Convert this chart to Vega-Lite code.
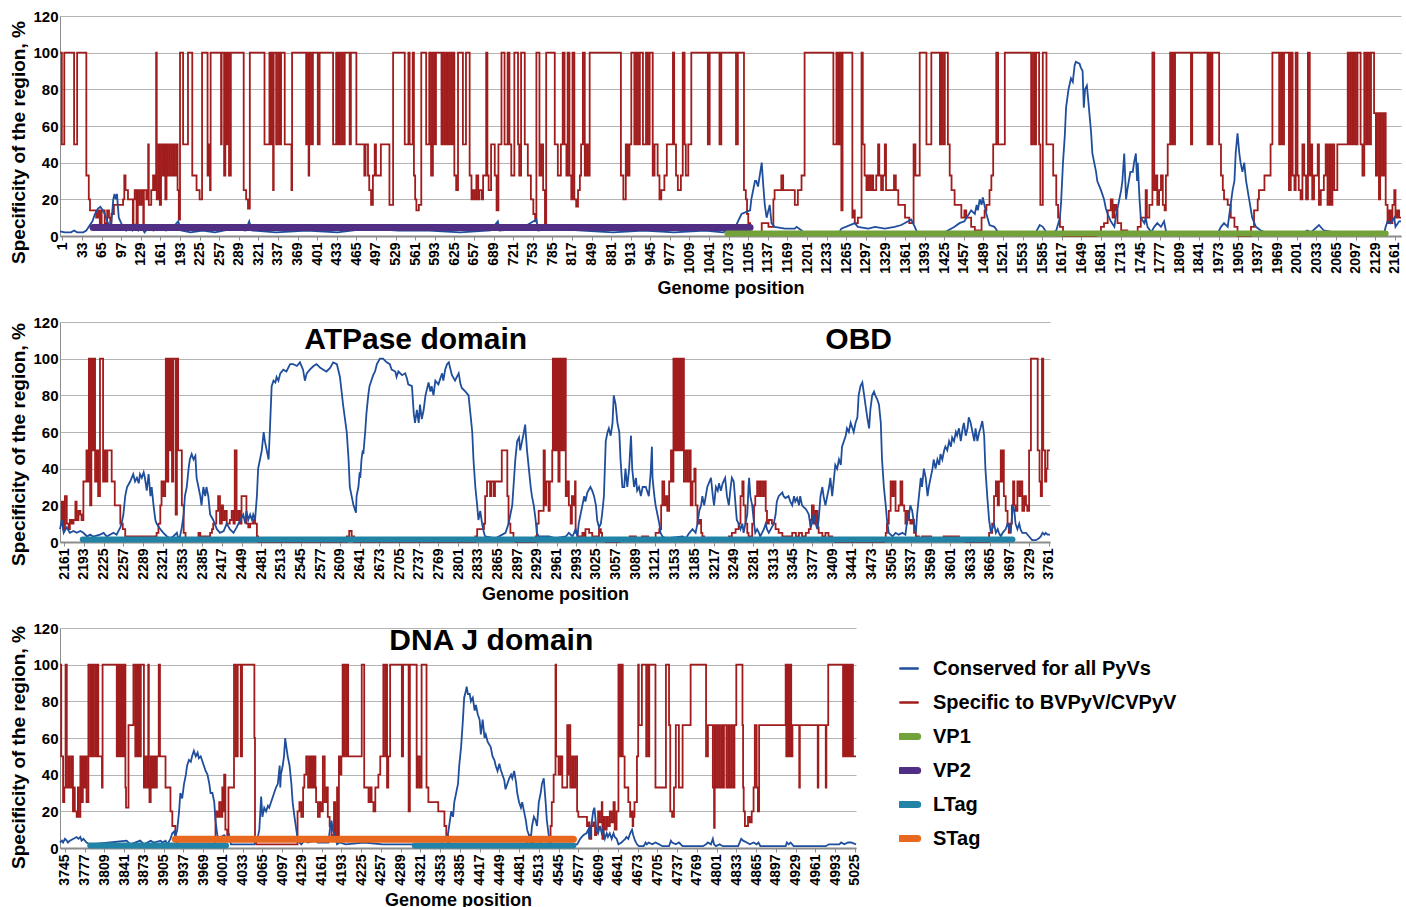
{
"$schema": "https://vega.github.io/schema/vega-lite/v6.json",
"background": "white",
"padding": {"left": 9, "top": 9, "right": 4, "bottom": 0},
"spacing": 17,
"config": {
  "font": "Liberation Sans",
  "view": {"stroke": null},
  "axis": {"labelFont": "Liberation Sans", "labelFontWeight": "bold", "labelColor": "#000000", "titleFont": "Liberation Sans", "titleFontWeight": "bold", "titleColor": "#000000", "domainColor": "#8c8c8c", "tickColor": "#8c8c8c", "gridColor": "#b4b4b4"}
},
"resolve": {"scale": {"x": "independent", "y": "independent", "color": "independent"}},
"datasets": {
"p1r": [{"x":-3,"y":100},{"x":0,"y":50},{"x":4,"y":100},{"x":20,"y":50},{"x":25,"y":100},{"x":40,"y":33},{"x":44,"y":20},{"x":46,"y":14},{"x":56,"y":10},{"x":59,"y":14},{"x":62,"y":7},{"x":65,"y":14},{"x":70,"y":7},{"x":74,"y":14},{"x":77,"y":10},{"x":79,"y":7},{"x":81,"y":12},{"x":85,"y":17},{"x":100,"y":20},{"x":102,"y":33},{"x":104,"y":25},{"x":108,"y":20},{"x":116,"y":7},{"x":117,"y":20},{"x":119,"y":25},{"x":122,"y":7},{"x":124,"y":25},{"x":127,"y":17},{"x":130,"y":25},{"x":133,"y":7},{"x":134,"y":25},{"x":138,"y":20},{"x":141,"y":50},{"x":142,"y":17},{"x":146,"y":25},{"x":149,"y":33},{"x":152,"y":25},{"x":154,"y":100},{"x":155,"y":20},{"x":158,"y":50},{"x":160,"y":17},{"x":162,"y":50},{"x":165,"y":33},{"x":167,"y":50},{"x":169,"y":20},{"x":171,"y":50},{"x":173,"y":33},{"x":176,"y":50},{"x":179,"y":33},{"x":182,"y":50},{"x":184,"y":33},{"x":187,"y":50},{"x":189,"y":25},{"x":191,"y":9},{"x":193,"y":100},{"x":198,"y":50},{"x":206,"y":100},{"x":213,"y":33},{"x":220,"y":25},{"x":225,"y":20},{"x":229,"y":100},{"x":238,"y":33},{"x":240,"y":50},{"x":242,"y":25},{"x":243,"y":100},{"x":260,"y":50},{"x":261,"y":100},{"x":265,"y":33},{"x":267,"y":100},{"x":269,"y":50},{"x":271,"y":100},{"x":273,"y":33},{"x":276,"y":100},{"x":297,"y":25},{"x":301,"y":20},{"x":304,"y":15},{"x":307,"y":100},{"x":331,"y":50},{"x":339,"y":100},{"x":341,"y":50},{"x":343,"y":100},{"x":345,"y":25},{"x":346,"y":100},{"x":350,"y":50},{"x":353,"y":100},{"x":356,"y":50},{"x":358,"y":100},{"x":364,"y":50},{"x":375,"y":25},{"x":376,"y":100},{"x":399,"y":50},{"x":402,"y":100},{"x":403,"y":33},{"x":404,"y":100},{"x":407,"y":50},{"x":410,"y":100},{"x":418,"y":50},{"x":421,"y":100},{"x":443,"y":50},{"x":448,"y":100},{"x":450,"y":50},{"x":452,"y":100},{"x":453,"y":50},{"x":456,"y":100},{"x":459,"y":50},{"x":462,"y":100},{"x":470,"y":50},{"x":472,"y":100},{"x":481,"y":50},{"x":494,"y":33},{"x":496,"y":50},{"x":500,"y":33},{"x":502,"y":25},{"x":505,"y":17},{"x":508,"y":33},{"x":511,"y":50},{"x":513,"y":33},{"x":521,"y":50},{"x":535,"y":17},{"x":541,"y":100},{"x":560,"y":50},{"x":566,"y":100},{"x":568,"y":50},{"x":573,"y":100},{"x":575,"y":33},{"x":577,"y":20},{"x":579,"y":14},{"x":583,"y":17},{"x":587,"y":100},{"x":595,"y":50},{"x":600,"y":100},{"x":603,"y":33},{"x":606,"y":100},{"x":609,"y":50},{"x":611,"y":100},{"x":620,"y":50},{"x":622,"y":100},{"x":625,"y":50},{"x":628,"y":100},{"x":630,"y":50},{"x":633,"y":100},{"x":636,"y":50},{"x":639,"y":100},{"x":641,"y":33},{"x":644,"y":25},{"x":647,"y":100},{"x":655,"y":50},{"x":660,"y":100},{"x":666,"y":33},{"x":669,"y":20},{"x":671,"y":25},{"x":674,"y":20},{"x":677,"y":33},{"x":680,"y":20},{"x":682,"y":25},{"x":686,"y":20},{"x":688,"y":33},{"x":693,"y":100},{"x":695,"y":33},{"x":697,"y":25},{"x":701,"y":50},{"x":707,"y":33},{"x":710,"y":14},{"x":713,"y":50},{"x":718,"y":100},{"x":723,"y":50},{"x":728,"y":100},{"x":731,"y":50},{"x":734,"y":33},{"x":739,"y":100},{"x":745,"y":50},{"x":747,"y":33},{"x":750,"y":100},{"x":756,"y":50},{"x":761,"y":33},{"x":766,"y":20},{"x":770,"y":12},{"x":773,"y":8},{"x":775,"y":100},{"x":780,"y":33},{"x":783,"y":50},{"x":786,"y":25},{"x":789,"y":5},{"x":791,"y":100},{"x":805,"y":50},{"x":810,"y":33},{"x":815,"y":50},{"x":818,"y":100},{"x":821,"y":50},{"x":824,"y":33},{"x":826,"y":100},{"x":829,"y":33},{"x":832,"y":20},{"x":834,"y":100},{"x":837,"y":20},{"x":840,"y":16},{"x":843,"y":25},{"x":846,"y":33},{"x":848,"y":50},{"x":851,"y":100},{"x":854,"y":33},{"x":856,"y":50},{"x":859,"y":33},{"x":862,"y":100},{"x":913,"y":33},{"x":917,"y":20},{"x":921,"y":50},{"x":924,"y":33},{"x":927,"y":50},{"x":930,"y":100},{"x":935,"y":50},{"x":938,"y":100},{"x":941,"y":50},{"x":944,"y":100},{"x":949,"y":50},{"x":954,"y":100},{"x":957,"y":50},{"x":960,"y":100},{"x":965,"y":33},{"x":968,"y":50},{"x":973,"y":33},{"x":976,"y":20},{"x":979,"y":25},{"x":984,"y":33},{"x":988,"y":50},{"x":998,"y":100},{"x":1000,"y":50},{"x":1003,"y":33},{"x":1006,"y":25},{"x":1011,"y":33},{"x":1014,"y":100},{"x":1017,"y":50},{"x":1019,"y":33},{"x":1023,"y":50},{"x":1028,"y":100},{"x":1055,"y":50},{"x":1058,"y":100},{"x":1074,"y":50},{"x":1077,"y":100},{"x":1101,"y":50},{"x":1104,"y":100},{"x":1114,"y":25},{"x":1117,"y":20},{"x":1119,"y":12},{"x":1121,"y":7},{"x":1124,"y":2},{"x":1143,"y":7},{"x":1154,"y":5},{"x":1162,"y":20},{"x":1164,"y":25},{"x":1175,"y":33},{"x":1178,"y":25},{"x":1197,"y":17},{"x":1202,"y":25},{"x":1208,"y":33},{"x":1213,"y":100},{"x":1260,"y":50},{"x":1265,"y":100},{"x":1268,"y":50},{"x":1270,"y":100},{"x":1273,"y":14},{"x":1275,"y":100},{"x":1291,"y":10},{"x":1293,"y":14},{"x":1295,"y":7},{"x":1300,"y":10},{"x":1306,"y":100},{"x":1308,"y":50},{"x":1311,"y":33},{"x":1314,"y":25},{"x":1317,"y":33},{"x":1320,"y":25},{"x":1323,"y":33},{"x":1325,"y":25},{"x":1330,"y":33},{"x":1333,"y":50},{"x":1335,"y":33},{"x":1338,"y":25},{"x":1341,"y":33},{"x":1344,"y":50},{"x":1346,"y":25},{"x":1359,"y":33},{"x":1362,"y":25},{"x":1366,"y":17},{"x":1377,"y":10},{"x":1384,"y":7},{"x":1391,"y":50},{"x":1394,"y":33},{"x":1401,"y":100},{"x":1412,"y":50},{"x":1420,"y":100},{"x":1434,"y":50},{"x":1436,"y":100},{"x":1439,"y":50},{"x":1442,"y":100},{"x":1447,"y":50},{"x":1450,"y":33},{"x":1453,"y":25},{"x":1458,"y":17},{"x":1469,"y":10},{"x":1474,"y":14},{"x":1477,"y":10},{"x":1485,"y":5},{"x":1491,"y":3},{"x":1502,"y":10},{"x":1507,"y":14},{"x":1510,"y":17},{"x":1515,"y":25},{"x":1518,"y":33},{"x":1521,"y":50},{"x":1526,"y":100},{"x":1529,"y":50},{"x":1540,"y":100},{"x":1583,"y":50},{"x":1586,"y":100},{"x":1589,"y":50},{"x":1591,"y":100},{"x":1596,"y":50},{"x":1598,"y":17},{"x":1602,"y":100},{"x":1608,"y":50},{"x":1619,"y":33},{"x":1624,"y":17},{"x":1627,"y":10},{"x":1630,"y":5},{"x":1635,"y":0},{"x":1689,"y":2},{"x":1697,"y":5},{"x":1702,"y":7},{"x":1708,"y":14},{"x":1713,"y":20},{"x":1716,"y":10},{"x":1719,"y":17},{"x":1722,"y":14},{"x":1724,"y":7},{"x":1730,"y":3},{"x":1740,"y":2},{"x":1757,"y":5},{"x":1762,"y":10},{"x":1770,"y":25},{"x":1772,"y":10},{"x":1776,"y":17},{"x":1781,"y":100},{"x":1784,"y":25},{"x":1787,"y":33},{"x":1789,"y":17},{"x":1792,"y":25},{"x":1795,"y":33},{"x":1798,"y":17},{"x":1801,"y":14},{"x":1803,"y":33},{"x":1806,"y":50},{"x":1810,"y":100},{"x":1812,"y":50},{"x":1814,"y":100},{"x":1816,"y":50},{"x":1818,"y":100},{"x":1844,"y":50},{"x":1846,"y":100},{"x":1871,"y":50},{"x":1873,"y":100},{"x":1874,"y":50},{"x":1876,"y":100},{"x":1877,"y":50},{"x":1879,"y":100},{"x":1890,"y":50},{"x":1893,"y":33},{"x":1896,"y":25},{"x":1898,"y":20},{"x":1904,"y":17},{"x":1909,"y":10},{"x":1915,"y":5},{"x":1920,"y":0},{"x":1942,"y":5},{"x":1947,"y":14},{"x":1953,"y":20},{"x":1955,"y":25},{"x":1964,"y":33},{"x":1974,"y":50},{"x":1977,"y":100},{"x":1988,"y":50},{"x":1991,"y":100},{"x":1993,"y":50},{"x":1996,"y":100},{"x":2004,"y":25},{"x":2007,"y":100},{"x":2010,"y":33},{"x":2013,"y":25},{"x":2015,"y":100},{"x":2018,"y":33},{"x":2020,"y":25},{"x":2023,"y":20},{"x":2026,"y":50},{"x":2029,"y":33},{"x":2032,"y":20},{"x":2035,"y":100},{"x":2038,"y":33},{"x":2040,"y":50},{"x":2042,"y":20},{"x":2045,"y":33},{"x":2051,"y":50},{"x":2053,"y":17},{"x":2056,"y":25},{"x":2061,"y":33},{"x":2064,"y":50},{"x":2067,"y":17},{"x":2070,"y":50},{"x":2072,"y":17},{"x":2075,"y":50},{"x":2078,"y":25},{"x":2083,"y":50},{"x":2100,"y":100},{"x":2102,"y":50},{"x":2105,"y":100},{"x":2108,"y":50},{"x":2110,"y":100},{"x":2113,"y":50},{"x":2116,"y":100},{"x":2121,"y":50},{"x":2124,"y":33},{"x":2127,"y":100},{"x":2130,"y":50},{"x":2132,"y":100},{"x":2135,"y":50},{"x":2138,"y":100},{"x":2143,"y":67},{"x":2146,"y":33},{"x":2148,"y":67},{"x":2151,"y":20},{"x":2153,"y":67},{"x":2156,"y":33},{"x":2159,"y":67},{"x":2162,"y":17},{"x":2165,"y":7},{"x":2168,"y":14},{"x":2170,"y":7},{"x":2173,"y":17},{"x":2176,"y":25},{"x":2178,"y":10},{"x":2181,"y":14},{"x":2184,"y":10},{"x":2187,"y":10}],
"p1b": [{"x":-3,"y":2.5},{"x":5,"y":2},{"x":15,"y":2},{"x":20,"y":3},{"x":25,"y":2},{"x":35,"y":2},{"x":40,"y":3},{"x":44,"y":5},{"x":50,"y":8},{"x":54,"y":12},{"x":59,"y":15},{"x":63,"y":16},{"x":67,"y":14},{"x":70,"y":12},{"x":74,"y":8},{"x":79,"y":5},{"x":81,"y":8},{"x":84,"y":20},{"x":86,"y":23},{"x":88,"y":20},{"x":90,"y":23},{"x":93,"y":10},{"x":97,"y":7},{"x":100,"y":5},{"x":105,"y":3},{"x":110,"y":5},{"x":115,"y":3},{"x":120,"y":6},{"x":125,"y":3},{"x":130,"y":5},{"x":135,"y":2},{"x":140,"y":4},{"x":150,"y":3},{"x":160,"y":5},{"x":170,"y":3},{"x":180,"y":4},{"x":190,"y":8},{"x":195,"y":3},{"x":210,"y":2},{"x":230,"y":3},{"x":250,"y":2},{"x":280,"y":4},{"x":300,"y":3},{"x":306,"y":8},{"x":310,"y":3},{"x":350,"y":2},{"x":400,"y":3},{"x":450,"y":2},{"x":500,"y":4},{"x":550,"y":3},{"x":600,"y":3},{"x":650,"y":2},{"x":700,"y":3},{"x":712,"y":8},{"x":715,"y":3},{"x":750,"y":4},{"x":775,"y":9},{"x":778,"y":3},{"x":800,"y":4},{"x":850,"y":3},{"x":900,"y":2},{"x":950,"y":3},{"x":1000,"y":2},{"x":1050,"y":3},{"x":1080,"y":2},{"x":1100,"y":5},{"x":1110,"y":12},{"x":1124,"y":14},{"x":1126,"y":20},{"x":1132,"y":30},{"x":1134,"y":30},{"x":1137,"y":27},{"x":1143,"y":40},{"x":1145,"y":30},{"x":1148,"y":17},{"x":1151,"y":10},{"x":1154,"y":14},{"x":1156,"y":17},{"x":1159,"y":7},{"x":1164,"y":5},{"x":1181,"y":4},{"x":1197,"y":4},{"x":1200,"y":5},{"x":1208,"y":3},{"x":1213,"y":1},{"x":1268,"y":1},{"x":1273,"y":4},{"x":1295,"y":7},{"x":1300,"y":5},{"x":1317,"y":4},{"x":1328,"y":5},{"x":1344,"y":4},{"x":1360,"y":5},{"x":1371,"y":6},{"x":1382,"y":8},{"x":1387,"y":9},{"x":1393,"y":5},{"x":1398,"y":1},{"x":1436,"y":1},{"x":1447,"y":3},{"x":1458,"y":5},{"x":1466,"y":7},{"x":1474,"y":8},{"x":1485,"y":14},{"x":1491,"y":12},{"x":1494,"y":17},{"x":1496,"y":14},{"x":1499,"y":20},{"x":1502,"y":17},{"x":1504,"y":21},{"x":1510,"y":12},{"x":1515,"y":6},{"x":1523,"y":5},{"x":1529,"y":2},{"x":1534,"y":1},{"x":1589,"y":1},{"x":1597,"y":6},{"x":1602,"y":5},{"x":1608,"y":2},{"x":1616,"y":1},{"x":1624,"y":3},{"x":1630,"y":10},{"x":1632,"y":19},{"x":1635,"y":40},{"x":1638,"y":55},{"x":1640,"y":70},{"x":1644,"y":80},{"x":1648,"y":86},{"x":1651,"y":84},{"x":1654,"y":93},{"x":1656,"y":95},{"x":1662,"y":94},{"x":1664,"y":92},{"x":1667,"y":90},{"x":1669,"y":70},{"x":1671,"y":80},{"x":1674,"y":82},{"x":1676,"y":75},{"x":1681,"y":56},{"x":1683,"y":45},{"x":1686,"y":40},{"x":1689,"y":35},{"x":1691,"y":30},{"x":1697,"y":25},{"x":1702,"y":20},{"x":1705,"y":15},{"x":1708,"y":12},{"x":1713,"y":8},{"x":1719,"y":5},{"x":1721,"y":10},{"x":1724,"y":15},{"x":1730,"y":25},{"x":1732,"y":30},{"x":1735,"y":45},{"x":1738,"y":20},{"x":1740,"y":25},{"x":1745,"y":35},{"x":1749,"y":35},{"x":1751,"y":40},{"x":1754,"y":45},{"x":1756,"y":30},{"x":1757,"y":40},{"x":1760,"y":20},{"x":1762,"y":10},{"x":1768,"y":7},{"x":1770,"y":10},{"x":1773,"y":5},{"x":1779,"y":2},{"x":1784,"y":5},{"x":1789,"y":7},{"x":1795,"y":5},{"x":1800,"y":8},{"x":1803,"y":3},{"x":1806,"y":1},{"x":1887,"y":1},{"x":1893,"y":5},{"x":1898,"y":7},{"x":1904,"y":5},{"x":1906,"y":10},{"x":1912,"y":25},{"x":1915,"y":30},{"x":1917,"y":45},{"x":1920,"y":56},{"x":1923,"y":45},{"x":1925,"y":40},{"x":1928,"y":35},{"x":1931,"y":40},{"x":1934,"y":30},{"x":1939,"y":20},{"x":1944,"y":10},{"x":1950,"y":5},{"x":1958,"y":3},{"x":1974,"y":1},{"x":2029,"y":2},{"x":2034,"y":3},{"x":2040,"y":2},{"x":2053,"y":6},{"x":2061,"y":3},{"x":2078,"y":2},{"x":2083,"y":1},{"x":2159,"y":1},{"x":2162,"y":5},{"x":2165,"y":8},{"x":2170,"y":7},{"x":2176,"y":10},{"x":2178,"y":5},{"x":2184,"y":8},{"x":2187,"y":8}],
"p2r": [{"x":2154,"y":10},{"x":2157,"y":22},{"x":2159,"y":7},{"x":2162,"y":25},{"x":2165,"y":10},{"x":2168,"y":7},{"x":2170,"y":12},{"x":2173,"y":10},{"x":2176,"y":12},{"x":2179,"y":22},{"x":2181,"y":12},{"x":2184,"y":17},{"x":2187,"y":15},{"x":2189,"y":12},{"x":2192,"y":33},{"x":2197,"y":50},{"x":2199,"y":33},{"x":2201,"y":100},{"x":2203,"y":20},{"x":2205,"y":100},{"x":2207,"y":50},{"x":2209,"y":100},{"x":2211,"y":33},{"x":2214,"y":50},{"x":2216,"y":25},{"x":2219,"y":100},{"x":2224,"y":33},{"x":2226,"y":50},{"x":2228,"y":33},{"x":2231,"y":50},{"x":2238,"y":33},{"x":2243,"y":20},{"x":2252,"y":10},{"x":2256,"y":7},{"x":2260,"y":3},{"x":2311,"y":5},{"x":2314,"y":10},{"x":2317,"y":20},{"x":2319,"y":33},{"x":2322,"y":25},{"x":2325,"y":33},{"x":2326,"y":100},{"x":2328,"y":33},{"x":2330,"y":100},{"x":2332,"y":50},{"x":2334,"y":100},{"x":2336,"y":33},{"x":2338,"y":100},{"x":2342,"y":15},{"x":2344,"y":100},{"x":2346,"y":50},{"x":2352,"y":20},{"x":2355,"y":5},{"x":2358,"y":2},{"x":2379,"y":5},{"x":2382,"y":3},{"x":2398,"y":5},{"x":2401,"y":7},{"x":2403,"y":10},{"x":2408,"y":17},{"x":2411,"y":25},{"x":2414,"y":10},{"x":2417,"y":20},{"x":2419,"y":12},{"x":2422,"y":17},{"x":2425,"y":10},{"x":2430,"y":12},{"x":2433,"y":17},{"x":2436,"y":10},{"x":2438,"y":50},{"x":2441,"y":12},{"x":2444,"y":17},{"x":2446,"y":10},{"x":2449,"y":25},{"x":2457,"y":10},{"x":2460,"y":8},{"x":2463,"y":10},{"x":2468,"y":12},{"x":2471,"y":10},{"x":2474,"y":3},{"x":2476,"y":0},{"x":2620,"y":3},{"x":2624,"y":6},{"x":2628,"y":3},{"x":2632,"y":0},{"x":2829,"y":3},{"x":2832,"y":7},{"x":2843,"y":10},{"x":2845,"y":25},{"x":2848,"y":33},{"x":2853,"y":25},{"x":2855,"y":33},{"x":2859,"y":25},{"x":2861,"y":33},{"x":2872,"y":50},{"x":2881,"y":25},{"x":2883,"y":10},{"x":2886,"y":5},{"x":2891,"y":2},{"x":2894,"y":0},{"x":2927,"y":3},{"x":2929,"y":10},{"x":2932,"y":17},{"x":2940,"y":50},{"x":2942,"y":20},{"x":2944,"y":33},{"x":2948,"y":17},{"x":2950,"y":33},{"x":2954,"y":50},{"x":2955,"y":100},{"x":2957,"y":50},{"x":2958,"y":100},{"x":2960,"y":50},{"x":2962,"y":100},{"x":2964,"y":33},{"x":2966,"y":100},{"x":2968,"y":50},{"x":2970,"y":100},{"x":2973,"y":50},{"x":2974,"y":100},{"x":2976,"y":25},{"x":2978,"y":33},{"x":2981,"y":20},{"x":2984,"y":10},{"x":2986,"y":25},{"x":2989,"y":20},{"x":2991,"y":33},{"x":2992,"y":5},{"x":2995,"y":3},{"x":3003,"y":5},{"x":3006,"y":3},{"x":3008,"y":7},{"x":3014,"y":5},{"x":3019,"y":3},{"x":3030,"y":7},{"x":3033,"y":5},{"x":3035,"y":2},{"x":3041,"y":0},{"x":3063,"y":2},{"x":3080,"y":3},{"x":3090,"y":2},{"x":3100,"y":3},{"x":3110,"y":2},{"x":3122,"y":5},{"x":3128,"y":7},{"x":3131,"y":20},{"x":3133,"y":33},{"x":3136,"y":20},{"x":3139,"y":25},{"x":3141,"y":17},{"x":3144,"y":33},{"x":3147,"y":50},{"x":3149,"y":33},{"x":3151,"y":100},{"x":3153,"y":50},{"x":3155,"y":100},{"x":3157,"y":50},{"x":3158,"y":100},{"x":3160,"y":50},{"x":3162,"y":100},{"x":3164,"y":50},{"x":3166,"y":100},{"x":3168,"y":33},{"x":3171,"y":50},{"x":3174,"y":33},{"x":3177,"y":50},{"x":3179,"y":20},{"x":3182,"y":33},{"x":3185,"y":40},{"x":3187,"y":20},{"x":3190,"y":10},{"x":3193,"y":12},{"x":3196,"y":5},{"x":3198,"y":3},{"x":3201,"y":2},{"x":3241,"y":3},{"x":3246,"y":5},{"x":3252,"y":7},{"x":3257,"y":10},{"x":3260,"y":25},{"x":3263,"y":33},{"x":3265,"y":20},{"x":3268,"y":10},{"x":3271,"y":5},{"x":3273,"y":3},{"x":3279,"y":10},{"x":3282,"y":20},{"x":3284,"y":25},{"x":3287,"y":33},{"x":3290,"y":25},{"x":3292,"y":33},{"x":3295,"y":25},{"x":3298,"y":33},{"x":3301,"y":17},{"x":3303,"y":10},{"x":3306,"y":12},{"x":3311,"y":10},{"x":3317,"y":7},{"x":3322,"y":5},{"x":3328,"y":3},{"x":3344,"y":5},{"x":3350,"y":3},{"x":3355,"y":5},{"x":3360,"y":3},{"x":3366,"y":5},{"x":3371,"y":7},{"x":3374,"y":12},{"x":3376,"y":20},{"x":3379,"y":10},{"x":3382,"y":17},{"x":3385,"y":8},{"x":3387,"y":5},{"x":3393,"y":3},{"x":3398,"y":5},{"x":3403,"y":3},{"x":3409,"y":2},{"x":3414,"y":0},{"x":3493,"y":2},{"x":3496,"y":5},{"x":3498,"y":10},{"x":3501,"y":17},{"x":3504,"y":33},{"x":3507,"y":25},{"x":3509,"y":33},{"x":3512,"y":17},{"x":3517,"y":20},{"x":3520,"y":33},{"x":3523,"y":20},{"x":3526,"y":17},{"x":3528,"y":10},{"x":3531,"y":17},{"x":3534,"y":12},{"x":3536,"y":10},{"x":3539,"y":12},{"x":3542,"y":5},{"x":3545,"y":3},{"x":3550,"y":2},{"x":3555,"y":3},{"x":3570,"y":2},{"x":3590,"y":3},{"x":3615,"y":2},{"x":3626,"y":0},{"x":3664,"y":5},{"x":3669,"y":10},{"x":3672,"y":25},{"x":3675,"y":33},{"x":3678,"y":20},{"x":3680,"y":33},{"x":3683,"y":50},{"x":3685,"y":33},{"x":3687,"y":50},{"x":3688,"y":25},{"x":3691,"y":17},{"x":3694,"y":10},{"x":3696,"y":5},{"x":3699,"y":10},{"x":3701,"y":20},{"x":3703,"y":33},{"x":3705,"y":20},{"x":3707,"y":17},{"x":3710,"y":33},{"x":3713,"y":25},{"x":3715,"y":33},{"x":3718,"y":17},{"x":3721,"y":25},{"x":3724,"y":20},{"x":3726,"y":17},{"x":3729,"y":50},{"x":3732,"y":100},{"x":3743,"y":50},{"x":3746,"y":33},{"x":3748,"y":25},{"x":3750,"y":100},{"x":3752,"y":50},{"x":3755,"y":33},{"x":3757,"y":40},{"x":3759,"y":50},{"x":3763,"y":50}],
"p2b": [{"x":2154,"y":7},{"x":2157,"y":12},{"x":2160,"y":5},{"x":2165,"y":8},{"x":2170,"y":5},{"x":2176,"y":6},{"x":2181,"y":5},{"x":2187,"y":6},{"x":2192,"y":5},{"x":2198,"y":3},{"x":2203,"y":4},{"x":2208,"y":3},{"x":2219,"y":4},{"x":2225,"y":5},{"x":2230,"y":3},{"x":2235,"y":4},{"x":2241,"y":5},{"x":2246,"y":4},{"x":2252,"y":8},{"x":2254,"y":10},{"x":2257,"y":15},{"x":2260,"y":25},{"x":2263,"y":30},{"x":2268,"y":33},{"x":2273,"y":37},{"x":2276,"y":33},{"x":2279,"y":35},{"x":2282,"y":32},{"x":2284,"y":37},{"x":2287,"y":35},{"x":2290,"y":38},{"x":2292,"y":35},{"x":2295,"y":28},{"x":2298,"y":37},{"x":2301,"y":25},{"x":2303,"y":30},{"x":2306,"y":20},{"x":2309,"y":12},{"x":2311,"y":10},{"x":2317,"y":7},{"x":2322,"y":5},{"x":2328,"y":3},{"x":2333,"y":2},{"x":2338,"y":3},{"x":2344,"y":5},{"x":2346,"y":2},{"x":2349,"y":3},{"x":2352,"y":8},{"x":2355,"y":15},{"x":2357,"y":25},{"x":2360,"y":30},{"x":2363,"y":40},{"x":2365,"y":45},{"x":2368,"y":48},{"x":2371,"y":45},{"x":2374,"y":47},{"x":2376,"y":35},{"x":2379,"y":30},{"x":2382,"y":25},{"x":2384,"y":20},{"x":2387,"y":30},{"x":2390,"y":25},{"x":2392,"y":30},{"x":2395,"y":25},{"x":2398,"y":15},{"x":2403,"y":12},{"x":2409,"y":7},{"x":2414,"y":5},{"x":2420,"y":6},{"x":2425,"y":10},{"x":2430,"y":7},{"x":2436,"y":5},{"x":2441,"y":8},{"x":2447,"y":12},{"x":2452,"y":15},{"x":2455,"y":10},{"x":2457,"y":17},{"x":2460,"y":12},{"x":2463,"y":15},{"x":2466,"y":12},{"x":2468,"y":15},{"x":2471,"y":12},{"x":2474,"y":25},{"x":2476,"y":40},{"x":2479,"y":45},{"x":2482,"y":50},{"x":2485,"y":60},{"x":2487,"y":55},{"x":2490,"y":50},{"x":2493,"y":45},{"x":2495,"y":60},{"x":2498,"y":85},{"x":2501,"y":88},{"x":2504,"y":87},{"x":2506,"y":90},{"x":2509,"y":88},{"x":2512,"y":92},{"x":2517,"y":94},{"x":2522,"y":93},{"x":2528,"y":97},{"x":2533,"y":97},{"x":2539,"y":96},{"x":2544,"y":98},{"x":2549,"y":94},{"x":2552,"y":88},{"x":2555,"y":92},{"x":2560,"y":94},{"x":2566,"y":96},{"x":2571,"y":97},{"x":2577,"y":95},{"x":2582,"y":94},{"x":2587,"y":93},{"x":2593,"y":95},{"x":2598,"y":98},{"x":2604,"y":97},{"x":2609,"y":90},{"x":2614,"y":75},{"x":2620,"y":60},{"x":2623,"y":45},{"x":2625,"y":30},{"x":2628,"y":25},{"x":2631,"y":20},{"x":2635,"y":16},{"x":2636,"y":25},{"x":2639,"y":30},{"x":2641,"y":38},{"x":2642,"y":35},{"x":2644,"y":45},{"x":2646,"y":50},{"x":2647,"y":48},{"x":2650,"y":60},{"x":2652,"y":70},{"x":2655,"y":80},{"x":2657,"y":85},{"x":2660,"y":88},{"x":2663,"y":91},{"x":2666,"y":93},{"x":2669,"y":97},{"x":2674,"y":100},{"x":2679,"y":100},{"x":2685,"y":98},{"x":2690,"y":97},{"x":2693,"y":94},{"x":2699,"y":93},{"x":2701,"y":90},{"x":2704,"y":93},{"x":2710,"y":91},{"x":2715,"y":92},{"x":2718,"y":89},{"x":2720,"y":86},{"x":2726,"y":85},{"x":2729,"y":70},{"x":2731,"y":65},{"x":2734,"y":72},{"x":2737,"y":65},{"x":2739,"y":75},{"x":2742,"y":67},{"x":2745,"y":72},{"x":2748,"y":80},{"x":2753,"y":87},{"x":2756,"y":82},{"x":2758,"y":85},{"x":2761,"y":80},{"x":2764,"y":88},{"x":2769,"y":86},{"x":2775,"y":92},{"x":2777,"y":88},{"x":2780,"y":94},{"x":2783,"y":97},{"x":2786,"y":98},{"x":2788,"y":95},{"x":2791,"y":91},{"x":2796,"y":88},{"x":2802,"y":92},{"x":2805,"y":86},{"x":2807,"y":84},{"x":2813,"y":82},{"x":2818,"y":80},{"x":2821,"y":70},{"x":2824,"y":60},{"x":2826,"y":45},{"x":2829,"y":30},{"x":2832,"y":20},{"x":2834,"y":12},{"x":2837,"y":17},{"x":2840,"y":10},{"x":2843,"y":5},{"x":2845,"y":3},{"x":2862,"y":2},{"x":2878,"y":5},{"x":2883,"y":10},{"x":2889,"y":20},{"x":2894,"y":45},{"x":2897,"y":55},{"x":2900,"y":57},{"x":2902,"y":50},{"x":2905,"y":55},{"x":2908,"y":60},{"x":2910,"y":64},{"x":2913,"y":50},{"x":2916,"y":40},{"x":2919,"y":30},{"x":2921,"y":25},{"x":2924,"y":20},{"x":2927,"y":12},{"x":2929,"y":5},{"x":2932,"y":3},{"x":2949,"y":3},{"x":2959,"y":2},{"x":2976,"y":3},{"x":2981,"y":5},{"x":2987,"y":3},{"x":2992,"y":7},{"x":2995,"y":3},{"x":2997,"y":10},{"x":3000,"y":15},{"x":3003,"y":20},{"x":3006,"y":25},{"x":3008,"y":22},{"x":3011,"y":27},{"x":3016,"y":30},{"x":3019,"y":28},{"x":3022,"y":25},{"x":3025,"y":20},{"x":3027,"y":12},{"x":3030,"y":8},{"x":3033,"y":10},{"x":3035,"y":15},{"x":3038,"y":25},{"x":3041,"y":55},{"x":3044,"y":60},{"x":3046,"y":62},{"x":3049,"y":58},{"x":3052,"y":65},{"x":3054,"y":80},{"x":3057,"y":75},{"x":3060,"y":65},{"x":3063,"y":60},{"x":3065,"y":45},{"x":3068,"y":30},{"x":3071,"y":30},{"x":3073,"y":40},{"x":3076,"y":30},{"x":3079,"y":40},{"x":3082,"y":58},{"x":3084,"y":40},{"x":3087,"y":30},{"x":3090,"y":35},{"x":3092,"y":28},{"x":3095,"y":30},{"x":3098,"y":25},{"x":3101,"y":30},{"x":3106,"y":30},{"x":3111,"y":25},{"x":3114,"y":38},{"x":3116,"y":52},{"x":3117,"y":35},{"x":3120,"y":25},{"x":3122,"y":20},{"x":3125,"y":15},{"x":3128,"y":10},{"x":3130,"y":5},{"x":3133,"y":3},{"x":3139,"y":2},{"x":3166,"y":3},{"x":3171,"y":2},{"x":3177,"y":5},{"x":3182,"y":7},{"x":3187,"y":5},{"x":3190,"y":10},{"x":3193,"y":17},{"x":3196,"y":20},{"x":3198,"y":25},{"x":3201,"y":20},{"x":3206,"y":30},{"x":3212,"y":35},{"x":3215,"y":25},{"x":3217,"y":20},{"x":3220,"y":30},{"x":3223,"y":28},{"x":3225,"y":32},{"x":3228,"y":28},{"x":3231,"y":32},{"x":3235,"y":35},{"x":3238,"y":25},{"x":3241,"y":20},{"x":3244,"y":30},{"x":3246,"y":35},{"x":3249,"y":33},{"x":3252,"y":20},{"x":3254,"y":12},{"x":3257,"y":10},{"x":3260,"y":7},{"x":3263,"y":10},{"x":3265,"y":5},{"x":3268,"y":10},{"x":3271,"y":15},{"x":3273,"y":30},{"x":3274,"y":35},{"x":3276,"y":25},{"x":3279,"y":20},{"x":3282,"y":10},{"x":3284,"y":5},{"x":3287,"y":7},{"x":3290,"y":5},{"x":3292,"y":3},{"x":3295,"y":5},{"x":3298,"y":7},{"x":3301,"y":10},{"x":3303,"y":7},{"x":3306,"y":5},{"x":3314,"y":10},{"x":3317,"y":15},{"x":3319,"y":22},{"x":3322,"y":25},{"x":3328,"y":27},{"x":3330,"y":25},{"x":3333,"y":24},{"x":3338,"y":25},{"x":3341,"y":22},{"x":3344,"y":20},{"x":3347,"y":25},{"x":3349,"y":22},{"x":3352,"y":24},{"x":3355,"y":20},{"x":3357,"y":25},{"x":3360,"y":20},{"x":3366,"y":18},{"x":3368,"y":17},{"x":3371,"y":15},{"x":3374,"y":8},{"x":3376,"y":10},{"x":3379,"y":15},{"x":3382,"y":10},{"x":3385,"y":7},{"x":3387,"y":12},{"x":3390,"y":25},{"x":3393,"y":30},{"x":3395,"y":25},{"x":3398,"y":20},{"x":3401,"y":25},{"x":3404,"y":30},{"x":3406,"y":35},{"x":3409,"y":25},{"x":3412,"y":35},{"x":3414,"y":42},{"x":3417,"y":40},{"x":3420,"y":45},{"x":3423,"y":42},{"x":3425,"y":52},{"x":3428,"y":55},{"x":3431,"y":58},{"x":3433,"y":62},{"x":3436,"y":60},{"x":3439,"y":65},{"x":3442,"y":62},{"x":3444,"y":60},{"x":3447,"y":65},{"x":3450,"y":68},{"x":3452,"y":80},{"x":3455,"y":85},{"x":3458,"y":87},{"x":3461,"y":80},{"x":3463,"y":75},{"x":3466,"y":68},{"x":3469,"y":62},{"x":3471,"y":72},{"x":3474,"y":80},{"x":3477,"y":82},{"x":3479,"y":80},{"x":3482,"y":78},{"x":3485,"y":75},{"x":3488,"y":65},{"x":3490,"y":45},{"x":3493,"y":30},{"x":3496,"y":20},{"x":3498,"y":12},{"x":3501,"y":5},{"x":3507,"y":3},{"x":3512,"y":5},{"x":3517,"y":4},{"x":3523,"y":5},{"x":3528,"y":4},{"x":3531,"y":12},{"x":3534,"y":15},{"x":3536,"y":20},{"x":3539,"y":17},{"x":3542,"y":10},{"x":3545,"y":5},{"x":3547,"y":15},{"x":3550,"y":25},{"x":3553,"y":35},{"x":3555,"y":30},{"x":3558,"y":40},{"x":3561,"y":35},{"x":3564,"y":25},{"x":3566,"y":30},{"x":3569,"y":35},{"x":3572,"y":40},{"x":3574,"y":45},{"x":3577,"y":40},{"x":3580,"y":45},{"x":3583,"y":42},{"x":3585,"y":48},{"x":3588,"y":45},{"x":3591,"y":50},{"x":3593,"y":52},{"x":3596,"y":50},{"x":3599,"y":55},{"x":3602,"y":52},{"x":3604,"y":57},{"x":3607,"y":55},{"x":3610,"y":60},{"x":3612,"y":58},{"x":3615,"y":62},{"x":3618,"y":55},{"x":3621,"y":62},{"x":3623,"y":65},{"x":3626,"y":58},{"x":3629,"y":62},{"x":3631,"y":68},{"x":3634,"y":65},{"x":3637,"y":60},{"x":3640,"y":55},{"x":3642,"y":62},{"x":3645,"y":55},{"x":3648,"y":60},{"x":3650,"y":62},{"x":3653,"y":66},{"x":3656,"y":58},{"x":3658,"y":40},{"x":3661,"y":25},{"x":3664,"y":12},{"x":3667,"y":5},{"x":3669,"y":7},{"x":3672,"y":10},{"x":3675,"y":5},{"x":3678,"y":7},{"x":3680,"y":5},{"x":3683,"y":3},{"x":3686,"y":5},{"x":3691,"y":7},{"x":3694,"y":10},{"x":3696,"y":8},{"x":3699,"y":5},{"x":3702,"y":17},{"x":3703,"y":20},{"x":3705,"y":17},{"x":3707,"y":10},{"x":3710,"y":7},{"x":3713,"y":10},{"x":3715,"y":7},{"x":3718,"y":5},{"x":3724,"y":5},{"x":3729,"y":3},{"x":3734,"y":1},{"x":3740,"y":1},{"x":3745,"y":2},{"x":3748,"y":3},{"x":3751,"y":5},{"x":3754,"y":4},{"x":3756,"y":5},{"x":3759,"y":4},{"x":3763,"y":4}],
"p3r": [{"x":3737,"y":100},{"x":3739,"y":50},{"x":3742,"y":25},{"x":3744,"y":33},{"x":3746,"y":100},{"x":3748,"y":33},{"x":3751,"y":50},{"x":3753,"y":33},{"x":3756,"y":50},{"x":3758,"y":20},{"x":3760,"y":33},{"x":3761,"y":20},{"x":3764,"y":17},{"x":3766,"y":33},{"x":3767,"y":17},{"x":3770,"y":50},{"x":3772,"y":25},{"x":3774,"y":50},{"x":3776,"y":33},{"x":3778,"y":50},{"x":3780,"y":25},{"x":3783,"y":100},{"x":3786,"y":50},{"x":3788,"y":100},{"x":3790,"y":50},{"x":3792,"y":100},{"x":3795,"y":50},{"x":3797,"y":100},{"x":3799,"y":50},{"x":3805,"y":33},{"x":3806,"y":100},{"x":3829,"y":50},{"x":3831,"y":100},{"x":3832,"y":50},{"x":3834,"y":100},{"x":3836,"y":50},{"x":3837,"y":100},{"x":3839,"y":50},{"x":3841,"y":100},{"x":3843,"y":33},{"x":3844,"y":22},{"x":3848,"y":67},{"x":3856,"y":100},{"x":3859,"y":50},{"x":3861,"y":100},{"x":3863,"y":50},{"x":3865,"y":100},{"x":3867,"y":50},{"x":3868,"y":100},{"x":3873,"y":33},{"x":3875,"y":50},{"x":3878,"y":33},{"x":3880,"y":100},{"x":3881,"y":40},{"x":3882,"y":25},{"x":3884,"y":50},{"x":3886,"y":33},{"x":3887,"y":50},{"x":3889,"y":33},{"x":3891,"y":50},{"x":3892,"y":33},{"x":3894,"y":50},{"x":3897,"y":100},{"x":3899,"y":50},{"x":3908,"y":33},{"x":3916,"y":20},{"x":3919,"y":12},{"x":3924,"y":5},{"x":3926,"y":3},{"x":3928,"y":2},{"x":3989,"y":20},{"x":3992,"y":17},{"x":3995,"y":25},{"x":3998,"y":17},{"x":4000,"y":33},{"x":4001,"y":20},{"x":4003,"y":40},{"x":4005,"y":10},{"x":4008,"y":7},{"x":4010,"y":33},{"x":4019,"y":100},{"x":4022,"y":50},{"x":4025,"y":100},{"x":4030,"y":50},{"x":4032,"y":100},{"x":4052,"y":60},{"x":4053,"y":3},{"x":4055,"y":2},{"x":4122,"y":20},{"x":4125,"y":25},{"x":4128,"y":17},{"x":4131,"y":33},{"x":4133,"y":40},{"x":4136,"y":50},{"x":4139,"y":33},{"x":4142,"y":50},{"x":4144,"y":33},{"x":4146,"y":50},{"x":4147,"y":33},{"x":4149,"y":50},{"x":4151,"y":33},{"x":4152,"y":25},{"x":4155,"y":17},{"x":4158,"y":25},{"x":4160,"y":20},{"x":4163,"y":50},{"x":4166,"y":25},{"x":4169,"y":33},{"x":4171,"y":17},{"x":4174,"y":12},{"x":4177,"y":7},{"x":4179,"y":5},{"x":4181,"y":25},{"x":4183,"y":7},{"x":4186,"y":33},{"x":4188,"y":5},{"x":4189,"y":50},{"x":4191,"y":40},{"x":4193,"y":50},{"x":4195,"y":100},{"x":4197,"y":50},{"x":4198,"y":100},{"x":4201,"y":50},{"x":4202,"y":100},{"x":4204,"y":50},{"x":4226,"y":100},{"x":4230,"y":33},{"x":4237,"y":25},{"x":4240,"y":33},{"x":4242,"y":25},{"x":4245,"y":20},{"x":4248,"y":33},{"x":4253,"y":40},{"x":4256,"y":50},{"x":4261,"y":100},{"x":4264,"y":50},{"x":4265,"y":100},{"x":4267,"y":33},{"x":4269,"y":50},{"x":4272,"y":100},{"x":4291,"y":50},{"x":4293,"y":100},{"x":4302,"y":20},{"x":4304,"y":100},{"x":4315,"y":33},{"x":4317,"y":50},{"x":4320,"y":33},{"x":4323,"y":100},{"x":4331,"y":33},{"x":4334,"y":25},{"x":4350,"y":20},{"x":4360,"y":12},{"x":4363,"y":7},{"x":4366,"y":3},{"x":4368,"y":2},{"x":4494,"y":5},{"x":4497,"y":7},{"x":4500,"y":3},{"x":4505,"y":5},{"x":4516,"y":2},{"x":4529,"y":5},{"x":4532,"y":12},{"x":4534,"y":25},{"x":4537,"y":40},{"x":4540,"y":100},{"x":4541,"y":50},{"x":4545,"y":40},{"x":4548,"y":50},{"x":4551,"y":33},{"x":4559,"y":67},{"x":4560,"y":40},{"x":4561,"y":67},{"x":4564,"y":33},{"x":4567,"y":50},{"x":4569,"y":33},{"x":4572,"y":50},{"x":4575,"y":20},{"x":4577,"y":17},{"x":4591,"y":12},{"x":4593,"y":14},{"x":4595,"y":5},{"x":4598,"y":12},{"x":4601,"y":14},{"x":4604,"y":7},{"x":4606,"y":10},{"x":4609,"y":20},{"x":4612,"y":14},{"x":4615,"y":25},{"x":4616,"y":5},{"x":4618,"y":17},{"x":4620,"y":10},{"x":4623,"y":17},{"x":4625,"y":12},{"x":4628,"y":20},{"x":4631,"y":14},{"x":4634,"y":25},{"x":4636,"y":10},{"x":4639,"y":20},{"x":4642,"y":100},{"x":4643,"y":50},{"x":4645,"y":100},{"x":4646,"y":50},{"x":4647,"y":100},{"x":4649,"y":50},{"x":4652,"y":33},{"x":4658,"y":25},{"x":4661,"y":17},{"x":4663,"y":20},{"x":4665,"y":12},{"x":4666,"y":17},{"x":4668,"y":25},{"x":4672,"y":50},{"x":4674,"y":100},{"x":4675,"y":67},{"x":4680,"y":100},{"x":4687,"y":50},{"x":4688,"y":100},{"x":4691,"y":50},{"x":4692,"y":100},{"x":4702,"y":33},{"x":4719,"y":100},{"x":4724,"y":67},{"x":4726,"y":20},{"x":4729,"y":17},{"x":4732,"y":33},{"x":4735,"y":67},{"x":4740,"y":33},{"x":4746,"y":67},{"x":4759,"y":100},{"x":4784,"y":50},{"x":4787,"y":67},{"x":4795,"y":33},{"x":4797,"y":11},{"x":4798,"y":67},{"x":4800,"y":33},{"x":4803,"y":67},{"x":4806,"y":33},{"x":4809,"y":67},{"x":4811,"y":33},{"x":4813,"y":67},{"x":4817,"y":33},{"x":4820,"y":67},{"x":4822,"y":33},{"x":4825,"y":67},{"x":4828,"y":33},{"x":4830,"y":67},{"x":4833,"y":100},{"x":4843,"y":67},{"x":4844,"y":33},{"x":4845,"y":20},{"x":4847,"y":12},{"x":4852,"y":17},{"x":4855,"y":14},{"x":4858,"y":20},{"x":4861,"y":33},{"x":4863,"y":67},{"x":4866,"y":33},{"x":4868,"y":20},{"x":4870,"y":67},{"x":4913,"y":100},{"x":4914,"y":50},{"x":4915,"y":100},{"x":4916,"y":50},{"x":4918,"y":100},{"x":4919,"y":50},{"x":4921,"y":100},{"x":4922,"y":50},{"x":4924,"y":67},{"x":4935,"y":33},{"x":4936,"y":67},{"x":4965,"y":33},{"x":4966,"y":67},{"x":4978,"y":33},{"x":4979,"y":67},{"x":4982,"y":100},{"x":5006,"y":50},{"x":5007,"y":100},{"x":5008,"y":50},{"x":5009,"y":100},{"x":5011,"y":50},{"x":5012,"y":100},{"x":5014,"y":50},{"x":5015,"y":100},{"x":5016,"y":50},{"x":5017,"y":100},{"x":5019,"y":50},{"x":5020,"y":100},{"x":5022,"y":50},{"x":5027,"y":50}],
"p3b": [{"x":3737,"y":3},{"x":3740,"y":4},{"x":3742,"y":3},{"x":3745,"y":5},{"x":3748,"y":4},{"x":3750,"y":3},{"x":3753,"y":4},{"x":3764,"y":6},{"x":3767,"y":5},{"x":3770,"y":6},{"x":3772,"y":4},{"x":3775,"y":5},{"x":3780,"y":3},{"x":3786,"y":2},{"x":3818,"y":3},{"x":3845,"y":4},{"x":3851,"y":2},{"x":3867,"y":4},{"x":3873,"y":2},{"x":3884,"y":4},{"x":3889,"y":3},{"x":3900,"y":4},{"x":3903,"y":3},{"x":3908,"y":4},{"x":3911,"y":2},{"x":3916,"y":5},{"x":3919,"y":8},{"x":3922,"y":9},{"x":3924,"y":6},{"x":3927,"y":10},{"x":3930,"y":20},{"x":3932,"y":30},{"x":3935,"y":27},{"x":3938,"y":35},{"x":3941,"y":40},{"x":3943,"y":45},{"x":3946,"y":48},{"x":3949,"y":47},{"x":3951,"y":50},{"x":3954,"y":53},{"x":3957,"y":50},{"x":3960,"y":52},{"x":3962,"y":49},{"x":3965,"y":50},{"x":3968,"y":47},{"x":3970,"y":45},{"x":3973,"y":42},{"x":3976,"y":40},{"x":3979,"y":35},{"x":3981,"y":30},{"x":3984,"y":30},{"x":3987,"y":25},{"x":3989,"y":15},{"x":3992,"y":7},{"x":3995,"y":5},{"x":3998,"y":6},{"x":4003,"y":7},{"x":4006,"y":6},{"x":4008,"y":5},{"x":4011,"y":7},{"x":4014,"y":2},{"x":4052,"y":2},{"x":4057,"y":5},{"x":4060,"y":10},{"x":4063,"y":28},{"x":4065,"y":17},{"x":4068,"y":22},{"x":4071,"y":20},{"x":4074,"y":23},{"x":4076,"y":22},{"x":4079,"y":25},{"x":4082,"y":28},{"x":4084,"y":30},{"x":4087,"y":33},{"x":4090,"y":35},{"x":4093,"y":45},{"x":4094,"y":33},{"x":4095,"y":40},{"x":4098,"y":45},{"x":4100,"y":50},{"x":4102,"y":60},{"x":4103,"y":57},{"x":4106,"y":50},{"x":4109,"y":45},{"x":4112,"y":35},{"x":4114,"y":25},{"x":4117,"y":17},{"x":4120,"y":10},{"x":4122,"y":5},{"x":4125,"y":3},{"x":4128,"y":2},{"x":4133,"y":4},{"x":4139,"y":3},{"x":4150,"y":4},{"x":4155,"y":3},{"x":4172,"y":3},{"x":4175,"y":12},{"x":4177,"y":15},{"x":4179,"y":10},{"x":4182,"y":7},{"x":4186,"y":2},{"x":4190,"y":3},{"x":4200,"y":2},{"x":4230,"y":3},{"x":4260,"y":2},{"x":4355,"y":2},{"x":4357,"y":5},{"x":4360,"y":4},{"x":4366,"y":8},{"x":4371,"y":20},{"x":4374,"y":17},{"x":4376,"y":25},{"x":4379,"y":30},{"x":4382,"y":35},{"x":4384,"y":45},{"x":4387,"y":55},{"x":4390,"y":70},{"x":4392,"y":82},{"x":4395,"y":86},{"x":4396,"y":88},{"x":4398,"y":84},{"x":4401,"y":84},{"x":4403,"y":80},{"x":4406,"y":82},{"x":4409,"y":75},{"x":4411,"y":78},{"x":4414,"y":73},{"x":4417,"y":70},{"x":4419,"y":62},{"x":4422,"y":70},{"x":4425,"y":60},{"x":4427,"y":62},{"x":4430,"y":58},{"x":4435,"y":55},{"x":4438,"y":50},{"x":4441,"y":48},{"x":4443,"y":45},{"x":4446,"y":42},{"x":4449,"y":46},{"x":4451,"y":43},{"x":4454,"y":40},{"x":4457,"y":37},{"x":4459,"y":32},{"x":4462,"y":35},{"x":4465,"y":38},{"x":4468,"y":40},{"x":4470,"y":38},{"x":4473,"y":42},{"x":4476,"y":36},{"x":4478,"y":30},{"x":4481,"y":25},{"x":4484,"y":22},{"x":4486,"y":25},{"x":4489,"y":20},{"x":4492,"y":15},{"x":4494,"y":10},{"x":4497,"y":7},{"x":4500,"y":5},{"x":4502,"y":12},{"x":4505,"y":17},{"x":4508,"y":15},{"x":4510,"y":12},{"x":4513,"y":25},{"x":4516,"y":30},{"x":4518,"y":35},{"x":4521,"y":38},{"x":4524,"y":25},{"x":4526,"y":15},{"x":4529,"y":7},{"x":4532,"y":3},{"x":4537,"y":2},{"x":4575,"y":2},{"x":4580,"y":5},{"x":4585,"y":7},{"x":4590,"y":8},{"x":4593,"y":10},{"x":4595,"y":5},{"x":4598,"y":12},{"x":4601,"y":20},{"x":4603,"y":22},{"x":4605,"y":15},{"x":4606,"y":10},{"x":4609,"y":8},{"x":4612,"y":12},{"x":4615,"y":8},{"x":4617,"y":10},{"x":4620,"y":5},{"x":4623,"y":8},{"x":4625,"y":6},{"x":4628,"y":8},{"x":4631,"y":5},{"x":4634,"y":8},{"x":4636,"y":6},{"x":4639,"y":5},{"x":4642,"y":2},{"x":4647,"y":3},{"x":4650,"y":4},{"x":4653,"y":5},{"x":4655,"y":6},{"x":4658,"y":5},{"x":4661,"y":8},{"x":4664,"y":10},{"x":4666,"y":7},{"x":4669,"y":4},{"x":4672,"y":2},{"x":4675,"y":1},{"x":4683,"y":1},{"x":4686,"y":3},{"x":4688,"y":2},{"x":4691,"y":3},{"x":4697,"y":2},{"x":4702,"y":3},{"x":4708,"y":2},{"x":4713,"y":1},{"x":4724,"y":1},{"x":4727,"y":4},{"x":4729,"y":3},{"x":4735,"y":2},{"x":4740,"y":3},{"x":4746,"y":1},{"x":4779,"y":1},{"x":4784,"y":2},{"x":4787,"y":3},{"x":4792,"y":2},{"x":4795,"y":5},{"x":4797,"y":2},{"x":4800,"y":1},{"x":4806,"y":2},{"x":4811,"y":1},{"x":4836,"y":1},{"x":4841,"y":5},{"x":4844,"y":4},{"x":4850,"y":3},{"x":4855,"y":2},{"x":4861,"y":3},{"x":4866,"y":2},{"x":4869,"y":3},{"x":4872,"y":1},{"x":4913,"y":1},{"x":4915,"y":3},{"x":4918,"y":2},{"x":4921,"y":3},{"x":4926,"y":1},{"x":4978,"y":1},{"x":4983,"y":2},{"x":5000,"y":2},{"x":5003,"y":3},{"x":5008,"y":2},{"x":5014,"y":3},{"x":5019,"y":3},{"x":5027,"y":2}]
},
"vconcat": [
{
  "width": 1341, "height": 220,
  "encoding": {
    "x": {"field": "x", "type": "quantitative", "scale": {"domain": [-3, 2187], "nice": false, "zero": false},
      "axis": {"values": [1,33,65,97,129,161,193,225,257,289,321,353,385,417,449,481,513,545,577,609,641,673,705,737,769,801,833,865,897,929,961,993,1025,1057,1089,1121,1153,1185,1217,1249,1281,1313,1345,1377,1409,1441,1473,1505,1537,1569,1601,1633,1665,1697,1729,1761,1793,1825,1857,1889,1921,1953,1985,2017,2049,2081,2113,2145,2177],
        "format": "d", "labelExpr": "datum.value <= 321 ? datum.label : (datum.value == 1889 ? '1973' : format(datum.value - 16, 'd'))",
        "labelAngle": -90, "labelFontSize": 14, "labelOverlap": false, "labelFlush": false, "grid": false, "tickSize": 4, "labelPadding": 2,
        "title": "Genome position", "titleFontSize": 18, "titlePadding": 6, "domainWidth": 2}},
    "y": {"field": "y", "type": "quantitative", "scale": {"domain": [0, 120], "nice": false},
      "axis": {"values": [0,20,40,60,80,100,120], "title": "Specificity of the region, %", "titleFontSize": 19, "labelFontSize": 15, "tickSize": 0, "labelPadding": 2, "titlePadding": 4, "grid": true, "titleY": 126}}
  },
  "layer": [
    {"data": {"name": "p1r"}, "mark": {"type": "line", "interpolate": "step-after", "strokeWidth": 1.8},
     "encoding": {"color": {"datum": "Specific to BVPyV/CVPyV", "scale": {"domain": ["Conserved for all PyVs","Specific to BVPyV/CVPyV","VP1","VP2","LTag","STag"], "range": ["#1f4e9c","#a11c1c","#74a23a","#4f2e84","#2183a6","#e8681f"]}, "legend": null}}},
    {"data": {"name": "p1b"}, "mark": {"type": "line", "strokeWidth": 1.8},
     "encoding": {"color": {"datum": "Conserved for all PyVs", "legend": null}}},
    {"data": {"values": [{"x": 51, "x2": 1124, "y": 4.6}]}, "mark": {"type": "rule", "strokeWidth": 7, "strokeCap": "round"},
     "encoding": {"x2": {"field": "x2"}, "color": {"datum": "VP2", "legend": null}}},
    {"data": {"values": [{"x": 1087, "x2": 2162, "y": 1.4}]}, "mark": {"type": "rule", "strokeWidth": 6, "strokeCap": "round"},
     "encoding": {"x2": {"field": "x2"}, "color": {"datum": "VP1", "legend": null}}}
  ]
},
{
  "width": 990, "height": 220,
  "encoding": {
    "x": {"field": "x", "type": "quantitative", "scale": {"domain": [2154, 3763], "nice": false, "zero": false},
      "axis": {"values": [2161,2193,2225,2257,2289,2321,2353,2385,2417,2449,2481,2513,2545,2577,2609,2641,2673,2705,2737,2769,2801,2833,2865,2897,2929,2961,2993,3025,3057,3089,3121,3153,3185,3217,3249,3281,3313,3345,3377,3409,3441,3473,3505,3537,3569,3601,3633,3665,3697,3729,3761],
        "format": "d", "labelAngle": -90, "labelFontSize": 14, "labelOverlap": false, "labelFlush": false, "grid": false, "tickSize": 4, "labelPadding": 2,
        "title": "Genome position", "titleFontSize": 18, "titlePadding": 6, "domainWidth": 2}},
    "y": {"field": "y", "type": "quantitative", "scale": {"domain": [0, 120], "nice": false},
      "axis": {"values": [0,20,40,60,80,100,120], "title": "Specificity of the region, %", "titleFontSize": 19, "labelFontSize": 15, "tickSize": 0, "labelPadding": 2, "titlePadding": 4, "grid": true, "titleY": 122}}
  },
  "layer": [
    {"data": {"name": "p2r"}, "mark": {"type": "line", "interpolate": "step-after", "strokeWidth": 1.8},
     "encoding": {"color": {"datum": "Specific to BVPyV/CVPyV", "scale": {"domain": ["Conserved for all PyVs","Specific to BVPyV/CVPyV","VP1","VP2","LTag","STag"], "range": ["#1f4e9c","#a11c1c","#74a23a","#4f2e84","#2183a6","#e8681f"]}, "legend": null}}},
    {"data": {"name": "p2b"}, "mark": {"type": "line", "strokeWidth": 1.8},
     "encoding": {"color": {"datum": "Conserved for all PyVs", "legend": null}}},
    {"data": {"values": [{"x": 2191, "x2": 3702, "y": 1.3}]}, "mark": {"type": "rule", "strokeWidth": 6, "strokeCap": "round"},
     "encoding": {"x2": {"field": "x2"}, "color": {"datum": "LTag", "legend": null}}},
    {"data": {"values": [{"x": 2732, "y": 110, "t": "ATPase domain"}, {"x": 3452, "y": 110, "t": "OBD"}]},
     "mark": {"type": "text", "fontSize": 30, "fontWeight": "bold", "font": "Liberation Sans", "color": "#000000", "baseline": "middle"},
     "encoding": {"text": {"field": "t"}}}
  ]
},
{
  "width": 796, "height": 220,
  "encoding": {
    "x": {"field": "x", "type": "quantitative", "scale": {"domain": [3737, 5027], "nice": false, "zero": false},
      "axis": {"values": [3745,3777,3809,3841,3873,3905,3937,3969,4001,4033,4065,4097,4129,4161,4193,4225,4257,4289,4321,4353,4385,4417,4449,4481,4513,4545,4577,4609,4641,4673,4705,4737,4769,4801,4833,4865,4897,4929,4961,4993,5025],
        "format": "d", "labelAngle": -90, "labelFontSize": 14, "labelOverlap": false, "labelFlush": false, "grid": false, "tickSize": 4, "labelPadding": 2,
        "title": "Genome position", "titleFontSize": 18, "titlePadding": 6, "domainWidth": 2}},
    "y": {"field": "y", "type": "quantitative", "scale": {"domain": [0, 120], "nice": false},
      "axis": {"values": [0,20,40,60,80,100,120], "title": "Specificity of the region, %", "titleFontSize": 19, "labelFontSize": 15, "tickSize": 0, "labelPadding": 2, "titlePadding": 4, "grid": true, "titleY": 119}}
  },
  "layer": [
    {"data": {"name": "p3r"}, "mark": {"type": "line", "interpolate": "step-after", "strokeWidth": 1.8},
     "encoding": {"color": {"datum": "Specific to BVPyV/CVPyV", "scale": {"domain": ["Conserved for all PyVs","Specific to BVPyV/CVPyV","VP1","VP2","LTag","STag"], "range": ["#1f4e9c","#a11c1c","#74a23a","#4f2e84","#2183a6","#e8681f"]},
       "legend": {"orient": "none", "legendX": 839, "legendY": 29, "title": null, "padding": 0, "symbolType": "stroke", "symbolSize": 300, "labelFontSize": 20, "labelFontWeight": "bold", "labelFont": "Liberation Sans", "labelColor": "#000000", "labelLimit": 400, "rowPadding": 11, "clipHeight": 23, "labelOffset": 14,
         "encode": {"symbols": {"update": {"strokeWidth": {"signal": "datum.value == 'Conserved for all PyVs' || datum.value == 'Specific to BVPyV/CVPyV' ? 2.5 : 7"}, "strokeCap": {"value": "round"}, "opacity": {"value": 1}}}}}}}},
    {"data": {"name": "p3b"}, "mark": {"type": "line", "strokeWidth": 1.8},
     "encoding": {"color": {"datum": "Conserved for all PyVs"}}},
    {"data": {"values": [{"x": 3786, "x2": 4006, "y": 1.3}, {"x": 4312, "x2": 4569, "y": 1.3}]}, "mark": {"type": "rule", "strokeWidth": 6, "strokeCap": "round"},
     "encoding": {"x2": {"field": "x2"}, "color": {"datum": "LTag"}}},
    {"data": {"values": [{"x": 3924, "x2": 4569, "y": 4.8}]}, "mark": {"type": "rule", "strokeWidth": 7, "strokeCap": "round"},
     "encoding": {"x2": {"field": "x2"}, "color": {"datum": "STag"}}},
    {"data": {"values": [{"x": 4436, "y": 113, "t": "DNA J domain"}]},
     "mark": {"type": "text", "fontSize": 30, "fontWeight": "bold", "font": "Liberation Sans", "color": "#000000", "baseline": "middle"},
     "encoding": {"text": {"field": "t"}, "color": {"value": "#000000"}}}
  ]
}
]
}
